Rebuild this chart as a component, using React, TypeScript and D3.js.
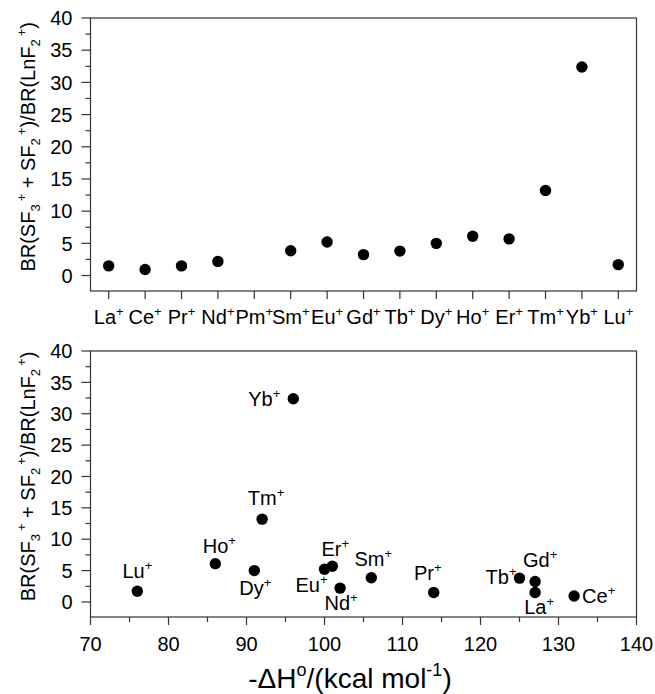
import React from "react";
import * as d3 from "d3";

const ions = ["La", "Ce", "Pr", "Nd", "Pm", "Sm", "Eu", "Gd", "Tb", "Dy", "Ho", "Er", "Tm", "Yb", "Lu"];
const ratio: (number | null)[] = [1.5, 0.95, 1.5, 2.2, null, 3.85, 5.2, 3.25, 3.8, 5.0, 6.1, 5.7, 13.2, 32.4, 1.7];
const enthalpyIons = ["La", "Ce", "Pr", "Nd", "Sm", "Eu", "Gd", "Tb", "Dy", "Ho", "Er", "Tm", "Yb", "Lu"];
const enthalpy = [127, 132, 114, 102, 106, 100, 127, 125, 91, 86, 101, 92, 96, 76];
const yTicks = [0, 5, 10, 15, 20, 25, 30, 35, 40];
const yMinor = [2.5, 7.5, 12.5, 17.5, 22.5, 27.5, 32.5, 37.5];
const xTicks = [70, 80, 90, 100, 110, 120, 130, 140];
const xMinor = [75, 85, 95, 105, 115, 125, 135];

// label placement (style only)
const labelPos: Record<string, { dx: number; dy: number; anchor: string }> = {
  Yb: { dx: -13, dy: 7, anchor: "end" },
  Tm: { dx: 4, dy: -14, anchor: "middle" },
  Ho: { dx: 4, dy: -11, anchor: "middle" },
  Dy: { dx: 1, dy: 24, anchor: "middle" },
  Er: { dx: 3, dy: -10, anchor: "middle" },
  Eu: { dx: 3, dy: 23, anchor: "end" },
  Nd: { dx: 1, dy: 22, anchor: "middle" },
  Sm: { dx: 2, dy: -12, anchor: "middle" },
  Pr: { dx: -6, dy: -13, anchor: "middle" },
  Tb: { dx: -3, dy: 6, anchor: "end" },
  Gd: { dx: 5, dy: -15, anchor: "middle" },
  La: { dx: 4, dy: 21, anchor: "middle" },
  Ce: { dx: 8, dy: 7, anchor: "start" },
  Lu: { dx: 0, dy: -13, anchor: "middle" },
};

const FONT = "'Liberation Sans', Arial, Helvetica, sans-serif";
const FRAME = "#333";
const FS = 20;
const L = 90.5, R = 636.5;
const top = { t: 18, b: 291 };
const bot = { t: 351, b: 617 };
const R_PT = 5.7;

function Ion({ name, x, y, anchor, fs = FS }: any) {
  return (
    <text x={x} y={y} textAnchor={anchor} fontSize={fs} fontFamily={FONT} fill="#000">
      {name}
      <tspan fontSize={fs * 0.65} dy={-fs * 0.4}>+</tspan>
    </text>
  );
}

function YTitle({ cy }: { cy: number }) {
  const fs = 20;
  const s = fs * 0.65;
  return (
    <text transform={`translate(35,${cy}) rotate(-90)`} textAnchor="middle" fontSize={fs} fontFamily={FONT}>
      BR(SF
      <tspan fontSize={s} dy={5}>3</tspan>
      <tspan fontSize={s} dy={-14} dx={3}>+</tspan>
      <tspan dy={9}> + SF</tspan>
      <tspan fontSize={s} dy={5}>2</tspan>
      <tspan fontSize={s} dy={-14} dx={3}>+</tspan>
      <tspan dy={9}>)/BR(LnF</tspan>
      <tspan fontSize={s} dy={5}>2</tspan>
      <tspan fontSize={s} dy={-14} dx={3}>+</tspan>
      <tspan dy={9}>)</tspan>
    </text>
  );
}

function YAxis({ y }: { y: d3.ScaleLinear<number, number> }) {
  return (
    <g>
      {yTicks.map((t) => (
        <g key={"M" + t}>
          <line x1={L - 9} x2={L} y1={y(t)} y2={y(t)} stroke={FRAME} strokeWidth={1.2} />
          <text x={L - 18} y={y(t)} dy="0.36em" textAnchor="end" fontSize={FS} fontFamily={FONT}>{t}</text>
        </g>
      ))}
      {yMinor.map((t) => (
        <line key={"m" + t} x1={L - 5} x2={L} y1={y(t)} y2={y(t)} stroke={FRAME} strokeWidth={1.2} />
      ))}
    </g>
  );
}

export default function App() {
  const yTop = d3.scaleLinear().domain([-2.4, 40]).range([top.b, top.t]);
  const yBot = d3.scaleLinear().domain([-2.4, 40]).range([bot.b, bot.t]);
  const xCat = d3.scalePoint<string>().domain(ions).range([L, R]).padding(0.5);
  const xH = d3.scaleLinear().domain([70, 140]).range([L, R]);

  const topPts = ions.map((n, i) => ({ n, v: ratio[i] })).filter((d) => d.v !== null) as { n: string; v: number }[];
  const botPts = enthalpyIons.map((n, i) => ({ n, h: enthalpy[i], v: ratio[ions.indexOf(n)] as number }));

  return (
    <div style={{ position: "absolute", left: 0, top: 0 }}>
      <svg width={655} height={694} style={{ display: "block", background: "#fff" }}>
        {/* Top panel */}
        <rect x={L} y={top.t} width={R - L} height={top.b - top.t} fill="none" stroke={FRAME} strokeWidth={1.2} />
        <YAxis y={yTop} />
        {ions.map((n) => (
          <g key={"xt" + n}>
            <line x1={xCat(n)} x2={xCat(n)} y1={top.b} y2={top.b + 8} stroke={FRAME} strokeWidth={1.2} />
            <Ion name={n} x={xCat(n)} y={324} anchor="middle" />
          </g>
        ))}
        {topPts.map((d) => (
          <circle key={"tp" + d.n} cx={xCat(d.n)} cy={yTop(d.v)} r={R_PT} fill="#000" />
        ))}
        <YTitle cy={yTop(20)} />

        {/* Bottom panel */}
        <rect x={L} y={bot.t} width={R - L} height={bot.b - bot.t} fill="none" stroke={FRAME} strokeWidth={1.2} />
        <YAxis y={yBot} />
        {xTicks.map((t) => (
          <g key={"bx" + t}>
            <line x1={xH(t)} x2={xH(t)} y1={bot.b} y2={bot.b + 8} stroke={FRAME} strokeWidth={1.2} />
            <text x={xH(t)} y={651} textAnchor="middle" fontSize={FS} fontFamily={FONT}>{t}</text>
          </g>
        ))}
        {xMinor.map((t) => (
          <line key={"bm" + t} x1={xH(t)} x2={xH(t)} y1={bot.b} y2={bot.b + 5} stroke={FRAME} strokeWidth={1.2} />
        ))}
        {botPts.map((d) => {
          const p = labelPos[d.n];
          const cx = xH(d.h), cy = yBot(d.v);
          return (
            <g key={"bp" + d.n}>
              <circle cx={cx} cy={cy} r={R_PT} fill="#000" />
              <Ion name={d.n} x={cx + p.dx} y={cy + p.dy} anchor={p.anchor} />
            </g>
          );
        })}
        <YTitle cy={yBot(20)} />
        <text x={350} y={688} textAnchor="middle" fontSize={28} fontFamily={FONT}>
          -ΔH
          <tspan fontSize={18} dy={-12}>o</tspan>
          <tspan fontSize={28} dy={12}>/(kcal mol</tspan>
          <tspan fontSize={18} dy={-12}>-1</tspan>
          <tspan fontSize={28} dy={12}>)</tspan>
        </text>
      </svg>
    </div>
  );
}
